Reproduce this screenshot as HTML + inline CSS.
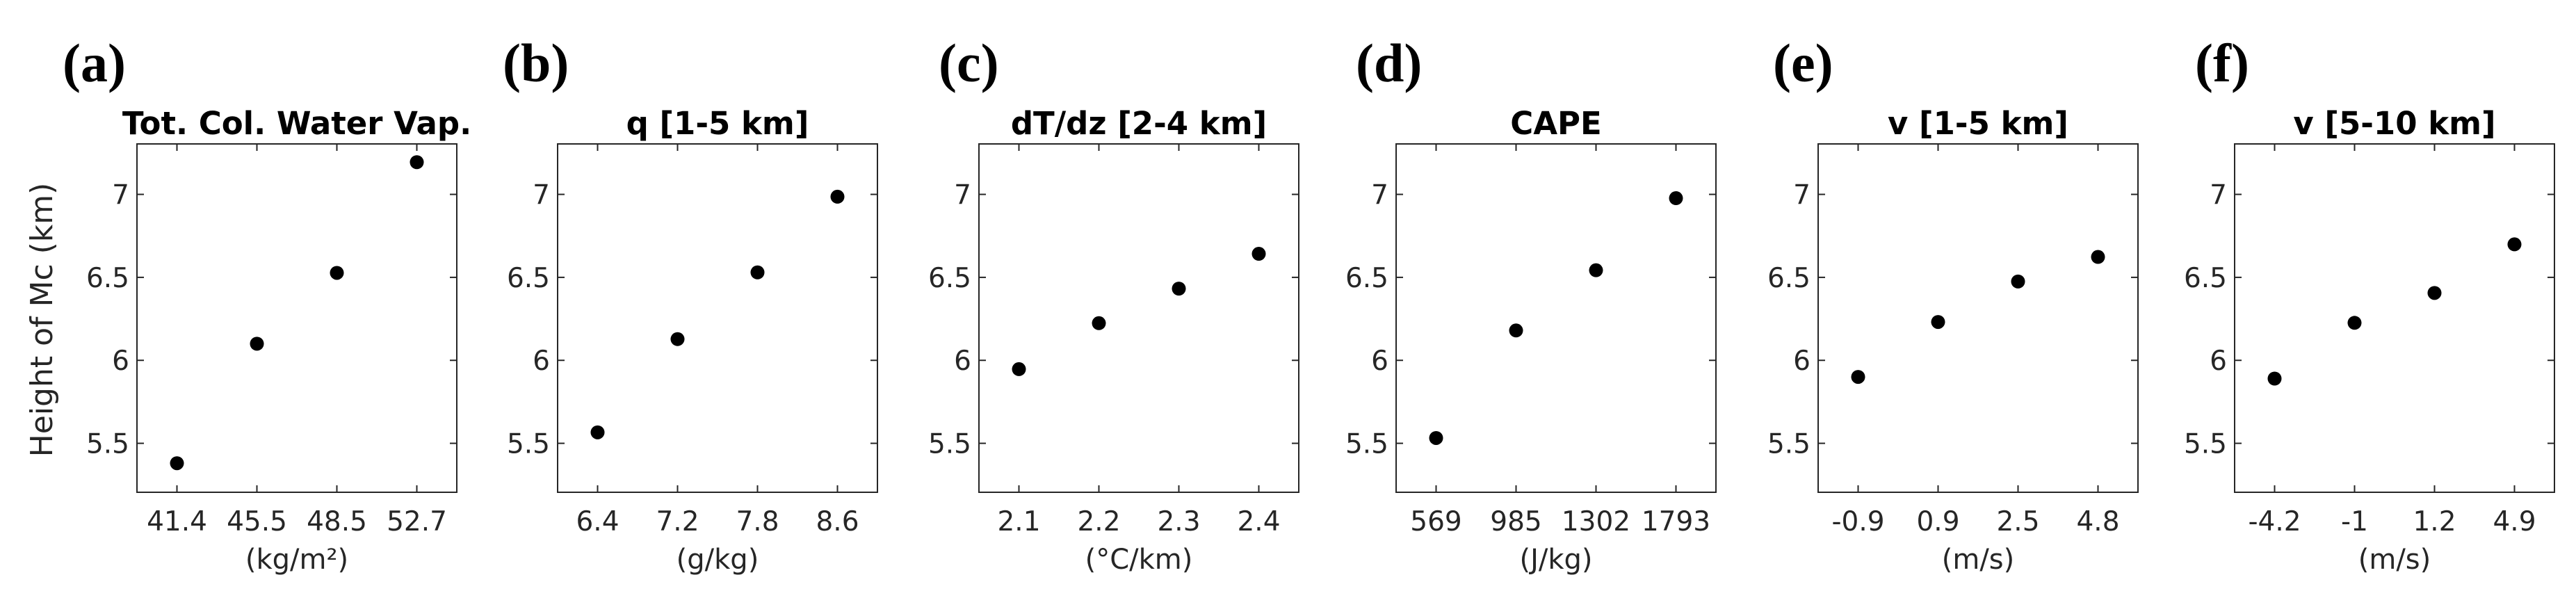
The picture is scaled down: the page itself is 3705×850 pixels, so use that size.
<!DOCTYPE html>
<html><head><meta charset="utf-8"><style>
html,body{margin:0;padding:0;background:#fff;}
svg{display:block;}
</style></head><body>
<svg id="fig" width="3705" height="850" xmlns="http://www.w3.org/2000/svg"></svg>
<script>
const panelLetters = ["(a)","(b)","(c)","(d)","(e)","(f)"];
const panelTitles = ["Tot. Col. Water Vap.","q [1-5 km]","dT/dz [2-4 km]","CAPE","v [1-5 km]","v [5-10 km]"];
const xUnits = ["(kg/m\u00b2)","(g/kg)","(\u00b0C/km)","(J/kg)","(m/s)","(m/s)"];
const xTickLabels = [
  ["41.4","45.5","48.5","52.7"],
  ["6.4","7.2","7.8","8.6"],
  ["2.1","2.2","2.3","2.4"],
  ["569","985","1302","1793"],
  ["-0.9","0.9","2.5","4.8"],
  ["-4.2","-1","1.2","4.9"]
];
const heightA = [5.38, 6.10, 6.527, 7.194];
const heightB = [5.566, 6.128, 6.530, 6.986];
const heightC = [5.947, 6.224, 6.432, 6.642];
const heightD = [5.532, 6.180, 6.543, 6.977];
const heightE = [5.900, 6.231, 6.475, 6.623];
const heightF = [5.890, 6.226, 6.406, 6.699];
const series = [heightA, heightB, heightC, heightD, heightE, heightF];
const yTicks = [5.5, 6, 6.5, 7];
const yLabel = "Height of Mc (km)";

const NS = "http://www.w3.org/2000/svg";
const svg = document.getElementById("fig");
const boxLefts = [197, 802, 1408, 2008, 2615, 3214];
const letterX = [90, 723, 1350, 1950, 2550, 3157];
const boxW = 460, topY = 207, botY = 708;
const yMin = 5.205, yMax = 7.304;
function mk(tag, attrs, parent){const e=document.createElementNS(NS,tag);for(const k in attrs)e.setAttribute(k,attrs[k]);(parent||svg).appendChild(e);return e;}
const yScale = v => botY - (v - yMin) / (yMax - yMin) * (botY - topY);
const FONT = '"DejaVu Sans","Liberation Sans",sans-serif';

for (let p = 0; p < 6; p++) {
  const L = boxLefts[p], R = L + boxW;
  const xScale = i => L + (i + 0.5) / 4 * boxW;
  const g = mk("g", {});
  
  

  const lt = mk("text", {x: letterX[p], y: 117, "font-family": '"Liberation Serif",serif', "font-weight": "bold", "font-size": 78, fill: "#000"}, g);
  lt.textContent = panelLetters[p];
  
  

  const tt = mk("text", {x: L + boxW/2, y: 193, "text-anchor": "middle", "font-family": FONT, "font-weight": "bold", "font-size": 45, fill: "#000"}, g);
  tt.textContent = panelTitles[p];
  
  

  const box = mk("rect", {x: L, y: topY, width: boxW, height: botY - topY, fill: "none", stroke: "#262626", "stroke-width": 2}, g);
  
  

  yTicks.forEach(v => {
    const y = yScale(v);
    mk("line", {x1: L, x2: L + 10, y1: y, y2: y, stroke: "#262626", "stroke-width": 2}, g);
    mk("line", {x1: R, x2: R - 10, y1: y, y2: y, stroke: "#262626", "stroke-width": 2}, g);
    const t = mk("text", {x: L - 11, y: y + 14, "text-anchor": "end", "font-family": FONT, "font-size": 39, fill: "#262626"}, g);
    t.textContent = String(v);
    
    
  });

  xTickLabels[p].forEach((lab, i) => {
    const x = xScale(i);
    mk("line", {x1: x, x2: x, y1: botY, y2: botY - 10, stroke: "#262626", "stroke-width": 2}, g);
    mk("line", {x1: x, x2: x, y1: topY, y2: topY + 10, stroke: "#262626", "stroke-width": 2}, g);
    const t = mk("text", {x: x, y: 763, "text-anchor": "middle", "font-family": FONT, "font-size": 39, fill: "#262626"}, g);
    t.textContent = lab;
    
    
  });

  const xl = mk("text", {x: L + boxW/2, y: 818, "text-anchor": "middle", "font-family": FONT, "font-size": 40, fill: "#262626"}, g);
  xl.textContent = xUnits[p];
  
  

  series[p].forEach((v, i) => {
    const c = mk("ellipse", {cx: xScale(i), cy: yScale(v), rx: 10, ry: 10, fill: "#000"}, g);
    
    
  });
}
const yl = mk("text", {x: 0, y: 0, transform: "translate(75,460) rotate(-90)", "text-anchor": "middle", "font-family": FONT, "font-size": 44, fill: "#262626"});
yl.textContent = yLabel;


</script>
</body></html>
